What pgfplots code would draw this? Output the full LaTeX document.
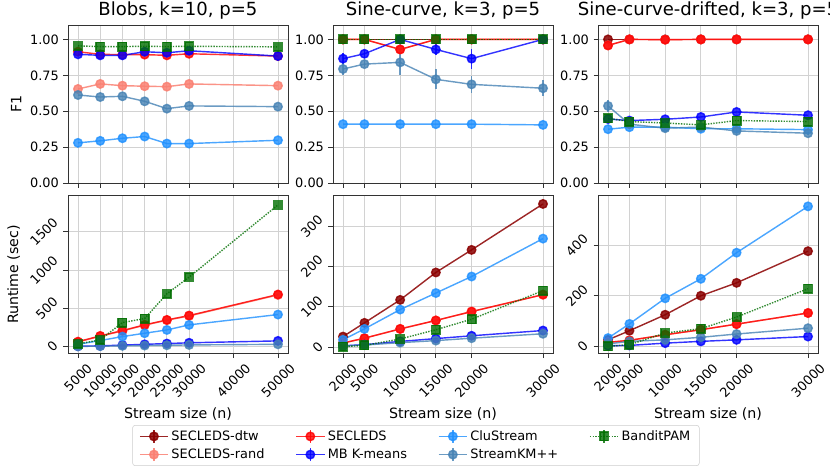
\documentclass[border=0pt]{standalone}
\usepackage{pgfplots}
\pgfplotsset{compat=1.18}
\usepgfplotslibrary{groupplots}
\usepackage{fontspec}
\setmainfont{DejaVu Sans}
\definecolor{cdtw}{RGB}{139,0,0}
\definecolor{crand}{RGB}{250,128,114}
\definecolor{csec}{RGB}{255,0,0}
\definecolor{cmb}{RGB}{0,0,255}
\definecolor{cclu}{RGB}{30,144,255}
\definecolor{cskm}{RGB}{70,130,180}
\definecolor{cband}{RGB}{0,110,0}
\newcommand{\rt}[1]{\rotatebox{45}{#1}}
\tikzset{
  sbase/.style={line width=1.1pt, mark size=3.3pt, mark options={solid}},
  sdtw/.style={sbase, cdtw, mark=*, opacity=0.85},
  srand/.style={sbase, crand, mark=*, opacity=0.85},
  ssec/.style={sbase, csec, mark=*, opacity=0.8},
  smb/.style={sbase, cmb, mark=*, opacity=0.8},
  sclu/.style={sbase, cclu, mark=*, opacity=0.8},
  sskm/.style={sbase, cskm, mark=*, opacity=0.8},
  sband/.style={sbase, cband, mark=square*, densely dotted, opacity=0.8},
}
\pgfplotsset{
  eb/.style={error bars/.cd, y dir=both, y explicit, error mark=none,
    error bar style={line width=1.1pt, solid}},
}
\begin{document}
\begin{tikzpicture}
\begin{groupplot}[
  group style={group name=G, group size=3 by 2, horizontal sep=34.9pt, vertical sep=9.6pt},
  scale only axis, width=170.5pt, height=122.5pt,
  axis line style={black!80, line width=0.6pt},
  tick pos=left, tick align=outside, major tick length=3.5pt,
  tick style={black!80, line width=0.6pt},
  grid=major, grid style={gray!35, line width=0.6pt},
  scaled ticks=false,
  tick label style={font=\fontsize{10}{12}\selectfont},
  label style={font=\fontsize{11}{13}\selectfont},
  title style={font=\fontsize{14}{16}\selectfont, yshift=-5pt},
  /pgf/number format/assume math mode=true,
]
% ---------- Row 1: F1 ----------
\nextgroupplot[title={Blobs, k=10, p=5}, ylabel={F1},
  xmin=2750, xmax=52250, ymin=0, ymax=1.1,
  xtick={5000,10000,15000,20000,25000,30000,40000,50000}, xticklabels={},
  ytick={0,0.25,0.5,0.75,1}, yticklabels={0.00,0.25,0.50,0.75,1.00}]
\addplot[srand] coordinates {(5000,0.655)(10000,0.69)(15000,0.678)(20000,0.674)(25000,0.671)(30000,0.69)(50000,0.678)};
\addplot[ssec] coordinates {(5000,0.914)(10000,0.896)(15000,0.894)(20000,0.894)(25000,0.889)(30000,0.90)(50000,0.884)};
\addplot[smb] coordinates {(5000,0.896)(10000,0.889)(15000,0.889)(20000,0.914)(25000,0.907)(30000,0.921)(50000,0.884)};
\addplot[sclu] coordinates {(5000,0.28)(10000,0.294)(15000,0.312)(20000,0.324)(25000,0.275)(30000,0.275)(50000,0.298)};
\addplot[sskm] coordinates {(5000,0.613)(10000,0.599)(15000,0.604)(20000,0.569)(25000,0.518)(30000,0.537)(50000,0.532)};
\addplot[sband] coordinates {(5000,0.955)(10000,0.95)(15000,0.95)(20000,0.952)(25000,0.95)(30000,0.952)(50000,0.948)};

\nextgroupplot[title={Sine-curve, k=3, p=5},
  xmin=600, xmax=31400, ymin=0, ymax=1.1,
  xtick={2000,5000,10000,15000,20000,30000}, xticklabels={},
  ytick={0,0.25,0.5,0.75,1}, yticklabels={0.00,0.25,0.50,0.75,1.00}]
\addplot[sdtw] coordinates {(2000,1)(5000,1)(10000,1)(15000,1)(20000,1)(30000,1)};
\addplot[srand] coordinates {(2000,1)(5000,1)(10000,0.93)(15000,1)(20000,1)(30000,1)};
\addplot[ssec] coordinates {(2000,1)(5000,1)(10000,0.93)(15000,1)(20000,1)(30000,1)};
\addplot[smb, eb] coordinates {(2000,0.866)+-(0,0.037)(5000,0.9)+-(0,0.025)(10000,1)+-(0,0)(15000,0.93)+-(0,0.04)(20000,0.866)+-(0,0.07)(30000,1)+-(0,0)};
\addplot[sclu] coordinates {(2000,0.41)(5000,0.41)(10000,0.41)(15000,0.41)(20000,0.41)(30000,0.405)};
\addplot[sskm, eb] coordinates {(2000,0.794)+-(0,0.04)(5000,0.828)+-(0,0.02)(10000,0.84)+-(0,0.09)(15000,0.722)+-(0,0.07)(20000,0.687)+-(0,0.06)(30000,0.66)+-(0,0.055)};
\addplot[sband] coordinates {(2000,1)(5000,1)(10000,1)(15000,1)(20000,1)(30000,1)};

\nextgroupplot[title={Sine-curve-drifted, k=3, p=5},
  xmin=600, xmax=31400, ymin=0, ymax=1.1,
  xtick={2000,5000,10000,15000,20000,30000}, xticklabels={},
  ytick={0,0.25,0.5,0.75,1}, yticklabels={0.00,0.25,0.50,0.75,1.00}]
\addplot[sdtw] coordinates {(2000,1)(5000,1)(10000,1)(15000,1)(20000,1)(30000,1)};
\addplot[srand] coordinates {(2000,0.958)(5000,1)(10000,0.998)(15000,1)(20000,1)(30000,1)};
\addplot[ssec] coordinates {(2000,0.958)(5000,1)(10000,0.998)(15000,1)(20000,1)(30000,1)};
\addplot[smb] coordinates {(2000,0.446)(5000,0.435)(10000,0.444)(15000,0.46)(20000,0.495)(30000,0.472)};
\addplot[sclu] coordinates {(2000,0.375)(5000,0.389)(10000,0.389)(15000,0.378)(20000,0.378)(30000,0.372)};
\addplot[sskm, eb] coordinates {(2000,0.537)+-(0,0.04)(5000,0.41)+-(0,0.01)(10000,0.382)+-(0,0.01)(15000,0.39)+-(0,0.01)(20000,0.363)+-(0,0.01)(30000,0.347)+-(0,0.01)};
\addplot[sband] coordinates {(2000,0.451)(5000,0.428)(10000,0.418)(15000,0.405)(20000,0.435)(30000,0.428)};

% ---------- Row 2: Runtime ----------
\nextgroupplot[ylabel={Runtime (sec)}, xlabel={Stream size (n)},
  xmin=2750, xmax=52250, ymin=-90, ymax=1975,
  xtick={5000,10000,15000,20000,25000,30000,40000,50000},
  xticklabels={\rt{5000},\rt{10000},\rt{15000},\rt{20000},\rt{25000},\rt{30000},\rt{40000},\rt{50000}},
  ytick={0,500,1000,1500}, yticklabels={\rt{0},\rt{500},\rt{1000},\rt{1500}}]
\addplot[srand] coordinates {(5000,60)(10000,135)(15000,205)(20000,280)(25000,345)(30000,400)(50000,675)};
\addplot[ssec] coordinates {(5000,65)(10000,140)(15000,210)(20000,284)(25000,349)(30000,406)(50000,681)};
\addplot[smb] coordinates {(5000,5)(10000,10)(15000,20)(20000,30)(25000,40)(30000,50)(50000,75)};
\addplot[sclu] coordinates {(5000,30)(10000,80)(15000,131)(20000,175)(25000,218)(30000,284)(50000,419)};
\addplot[sskm] coordinates {(5000,3)(10000,6)(15000,10)(20000,14)(25000,18)(30000,22)(50000,30)};
\addplot[sband] coordinates {(5000,35)(10000,88)(15000,314)(20000,367)(25000,690)(30000,908)(50000,1851)};

\nextgroupplot[xlabel={Stream size (n)},
  xmin=600, xmax=31400, ymin=-16, ymax=376,
  xtick={2000,5000,10000,15000,20000,30000},
  xticklabels={\rt{2000},\rt{5000},\rt{10000},\rt{15000},\rt{20000},\rt{30000}},
  ytick={0,100,200,300}, yticklabels={\rt{0},\rt{100},\rt{200},\rt{300}},
  legend style={at={(0.377,-0.453)}, anchor=north, draw=black!20, rounded corners=2pt,
    font=\fontsize{10}{12}\selectfont, row sep=1pt, inner xsep=5pt,
    /tikz/every even column/.append style={column sep=22pt}},
  legend cell align=left,
  legend columns=4,
  legend image code/.code={
    \draw[#1] (0pt,0pt) -- (22pt,0pt);
    \draw[#1, solid] (11pt,-5pt) -- (11pt,5pt);
    \draw[#1] plot coordinates {(11pt,0pt)};
  }]
\addlegendimage{sdtw}\addlegendentry{SECLEDS-dtw}
\addlegendimage{ssec}\addlegendentry{SECLEDS}
\addlegendimage{sclu}\addlegendentry{CluStream}
\addlegendimage{sband}\addlegendentry{BanditPAM}
\addlegendimage{srand}\addlegendentry{SECLEDS-rand}
\addlegendimage{smb}\addlegendentry{MB K-means}
\addlegendimage{sskm}\addlegendentry{StreamKM++}
\addplot[sdtw] coordinates {(2000,26)(5000,60)(10000,117)(15000,185)(20000,241)(30000,355)};
\addplot[srand] coordinates {(2000,10)(5000,22)(10000,45)(15000,66)(20000,88)(30000,130)};
\addplot[ssec] coordinates {(2000,10)(5000,22)(10000,45)(15000,66)(20000,88)(30000,130)};
\addplot[smb] coordinates {(2000,3)(5000,6)(10000,14)(15000,21)(20000,28)(30000,41)};
\addplot[sclu] coordinates {(2000,18)(5000,45)(10000,93)(15000,134)(20000,175)(30000,269)};
\addplot[sskm] coordinates {(2000,3)(5000,5)(10000,11)(15000,16)(20000,22)(30000,33)};
\addplot[sband] coordinates {(2000,1)(5000,4)(10000,20)(15000,43)(20000,69)(30000,140)};

\nextgroupplot[xlabel={Stream size (n)},
  xmin=600, xmax=31400, ymin=-28, ymax=596,
  xtick={2000,5000,10000,15000,20000,30000},
  xticklabels={\rt{2000},\rt{5000},\rt{10000},\rt{15000},\rt{20000},\rt{30000}},
  ytick={0,200,400}, yticklabels={\rt{0},\rt{200},\rt{400}}]
\addplot[sdtw] coordinates {(2000,26)(5000,62)(10000,125)(15000,200)(20000,251)(30000,376)};
\addplot[srand] coordinates {(2000,16)(5000,24)(10000,46)(15000,66)(20000,88)(30000,132)};
\addplot[ssec] coordinates {(2000,16)(5000,24)(10000,46)(15000,66)(20000,88)(30000,132)};
\addplot[smb] coordinates {(2000,3)(5000,4)(10000,13)(15000,20)(20000,26)(30000,39)};
\addplot[sclu] coordinates {(2000,33)(5000,89)(10000,190)(15000,267)(20000,370)(30000,553)};
\addplot[sskm] coordinates {(2000,10)(5000,20)(10000,26)(15000,36)(20000,49)(30000,72)};
\addplot[sband] coordinates {(2000,0)(5000,7)(10000,53)(15000,70)(20000,116)(30000,228)};
\end{groupplot}
\pgfresetboundingbox
\path ([shift={(-52.7pt,19.4pt)}]G c1r1.north west) rectangle ([shift={(590.6pt,-343.3pt)}]G c1r1.north west);
\end{tikzpicture}
\end{document}
